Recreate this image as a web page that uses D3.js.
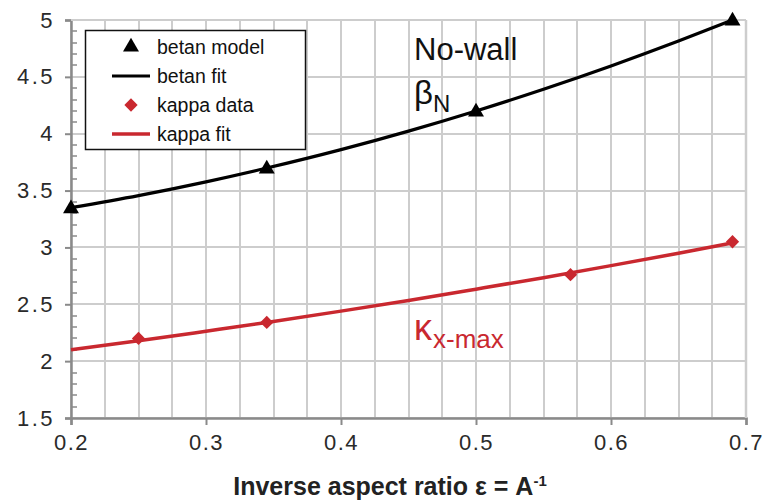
<!DOCTYPE html>
<html>
<head>
<meta charset="utf-8">
<script src="https://cdn.jsdelivr.net/npm/d3@7"></script>
<style>
  html, body { margin: 0; padding: 0; background: #fff; }
  svg { display: block; }
  text { font-family: "Liberation Sans", Arial, sans-serif; }
</style>
</head>
<body>
<svg id="chart" width="765" height="500"></svg>
<script>
// Inverse aspect ratio values
const betanModelX = [0.2, 0.345, 0.5, 0.69];
const betanModelY = [3.35, 3.70, 4.20, 5.00];
const betanFitX = [0.2, 0.25, 0.3, 0.345, 0.4, 0.45, 0.5, 0.55, 0.6, 0.65, 0.69];
const betanFitY = [3.35, 3.456, 3.577, 3.698, 3.86, 4.023, 4.20, 4.391, 4.596, 4.815, 5.00];
const kappaDataX = [0.25, 0.345, 0.57, 0.69];
const kappaDataY = [2.20, 2.34, 2.76, 3.05];
const kappaFitX = [0.2, 0.25, 0.3, 0.345, 0.4, 0.45, 0.5, 0.55, 0.6, 0.65, 0.69];
const kappaFitY = [2.10, 2.179, 2.263, 2.34, 2.44, 2.534, 2.633, 2.734, 2.84, 2.949, 3.04];
const xTickValues = [0.2, 0.3, 0.4, 0.5, 0.6, 0.7];
const yTickValues = [1.5, 2, 2.5, 3, 3.5, 4, 4.5, 5];
const legendLabels = ["betan model", "betan fit", "kappa data", "kappa fit"];

const svg = d3.select("#chart");
const pLeft = 71, pRight = 746, pTop = 20, pBottom = 418;
const x = d3.scaleLinear().domain([0.2, 0.7]).range([pLeft, pRight]);
const y = d3.scaleLinear().domain([1.5, 5]).range([pBottom, pTop]);
const px = v => Math.round(x(v));
const py = v => Math.round(y(v));

const gridColor = "#cdcdcd";
const axisColor = "#8a8a8a";
const red = "#c9282f";
const tickFont = "Liberation Sans, Arial, sans-serif";

// vertical grid every 0.025
const vGrid = d3.range(0, 21).map(i => 0.2 + i * 0.025);
svg.append("g").selectAll("line").data(vGrid).join("line")
  .attr("x1", d => px(d)).attr("x2", d => px(d))
  .attr("y1", pTop).attr("y2", pBottom)
  .attr("stroke", gridColor).attr("stroke-width", 2);
// horizontal grid every 0.5
svg.append("g").selectAll("line").data(yTickValues).join("line")
  .attr("x1", pLeft).attr("x2", pRight)
  .attr("y1", d => py(d)).attr("y2", d => py(d))
  .attr("stroke", gridColor).attr("stroke-width", 2);

// y axis: major ticks outward, minor ticks inward
const yAxis = svg.append("g").attr("transform", `translate(${pLeft},0)`)
  .call(d3.axisLeft(y).tickValues(yTickValues).tickSize(6).tickPadding(10)
    .tickFormat(d => String(d)));
yAxis.select(".domain").attr("stroke", axisColor).attr("stroke-width", 2.5);
yAxis.selectAll(".tick line").attr("stroke", axisColor).attr("stroke-width", 2);
yAxis.selectAll("text").attr("font-size", 22).attr("fill", "#2a2a2a")
  .attr("letter-spacing", 2.5).attr("font-family", tickFont);
const yMinor = d3.range(0, 36).map(i => 1.5 + i * 0.1).filter(v => Math.abs(v * 2 - Math.round(v * 2)) > 0.01);
svg.append("g").selectAll("line").data(yMinor).join("line")
  .attr("x1", pLeft).attr("x2", pLeft + 6)
  .attr("y1", d => py(d)).attr("y2", d => py(d))
  .attr("stroke", axisColor).attr("stroke-width", 1.5);

// x axis
const xAxis = svg.append("g").attr("transform", `translate(0,${pBottom})`)
  .call(d3.axisBottom(x).tickValues(xTickValues).tickSize(7).tickPadding(9)
    .tickFormat(d3.format(".1f")));
xAxis.select(".domain").attr("stroke", axisColor).attr("stroke-width", 2.5);
xAxis.selectAll(".tick line").attr("stroke", axisColor).attr("stroke-width", 2);
xAxis.selectAll("text").attr("font-size", 22).attr("fill", "#2a2a2a")
  .attr("letter-spacing", 1.5).attr("font-family", tickFont);
// right and top borders
svg.append("line").attr("x1", pRight).attr("x2", pRight).attr("y1", pTop).attr("y2", pBottom)
  .attr("stroke", gridColor).attr("stroke-width", 2.5);
svg.append("line").attr("x1", pLeft).attr("x2", pRight).attr("y1", pTop).attr("y2", pTop)
  .attr("stroke", gridColor).attr("stroke-width", 2);

// fit lines
const line = d3.line().x(d => x(d[0])).y(d => y(d[1])).curve(d3.curveMonotoneX);
svg.append("path").datum(betanFitX.map((v, i) => [v, betanFitY[i]]))
  .attr("d", line).attr("fill", "none").attr("stroke", "#000").attr("stroke-width", 3.2);
svg.append("path").datum(kappaFitX.map((v, i) => [v, kappaFitY[i]]))
  .attr("d", line).attr("fill", "none").attr("stroke", red).attr("stroke-width", 3.5);

// markers
const tri = d3.symbol().type(d3.symbolTriangle).size(110);
const dia = d3.symbol().type(d3.symbolSquare).size(88);
svg.append("g").selectAll("path").data(betanModelX.map((v, i) => [v, betanModelY[i]])).join("path")
  .attr("d", tri).attr("transform", d => `translate(${x(d[0])},${y(d[1]) + 1})`).attr("fill", "#000");
svg.append("g").selectAll("path").data(kappaDataX.map((v, i) => [v, kappaDataY[i]])).join("path")
  .attr("d", dia).attr("transform", d => `translate(${x(d[0])},${y(d[1])}) rotate(45)`).attr("fill", red);

// legend
const lg = svg.append("g");
lg.append("rect").attr("x", 85.5).attr("y", 30.5).attr("width", 220).attr("height", 119)
  .attr("fill", "#fff").attr("stroke", "#111").attr("stroke-width", 1.5);
const rows = [47, 76, 105, 134];
legendLabels.forEach((lab, i) => {
  const cy = rows[i];
  if (i === 0) lg.append("path").attr("d", tri).attr("transform", `translate(131,${cy})`).attr("fill", "#000");
  if (i === 2) lg.append("path").attr("d", dia).attr("transform", `translate(131,${cy}) rotate(45)`).attr("fill", red);
  if (i === 1) lg.append("line").attr("x1", 112).attr("x2", 150).attr("y1", cy).attr("y2", cy)
    .attr("stroke", "#000").attr("stroke-width", 3.2);
  if (i === 3) lg.append("line").attr("x1", 112).attr("x2", 150).attr("y1", cy).attr("y2", cy)
    .attr("stroke", red).attr("stroke-width", 3.5);
  lg.append("text").attr("x", 157).attr("y", cy + 7).attr("font-size", 19.5).attr("fill", "#111").text(lab);
});

// annotations
svg.append("text").attr("x", 414).attr("y", 60).attr("font-size", 31).attr("fill", "#111").text("No-wall");
const bN = svg.append("text").attr("x", 414).attr("y", 104).attr("font-size", 33).attr("fill", "#111");
bN.append("tspan").text("β");
bN.append("tspan").attr("dy", 8).attr("font-size", 24).text("N");
const kx = svg.append("text").attr("x", 414).attr("y", 340).attr("font-size", 36).attr("fill", red);
kx.append("tspan").text("κ");
kx.append("tspan").attr("dy", 8).attr("dx", 1).attr("font-size", 26).text("x-max");

// axis title
const title = svg.append("text").attr("x", 390).attr("y", 495).attr("text-anchor", "middle")
  .attr("font-size", 25).attr("font-weight", "bold").attr("fill", "#222")
  .attr("font-family", "Liberation Sans Narrow, Liberation Sans, Arial, sans-serif");
title.append("tspan").text("Inverse aspect ratio ε = A");
title.append("tspan").attr("dy", -9).attr("font-size", 15).text("-1");
</script>
</body>
</html>
